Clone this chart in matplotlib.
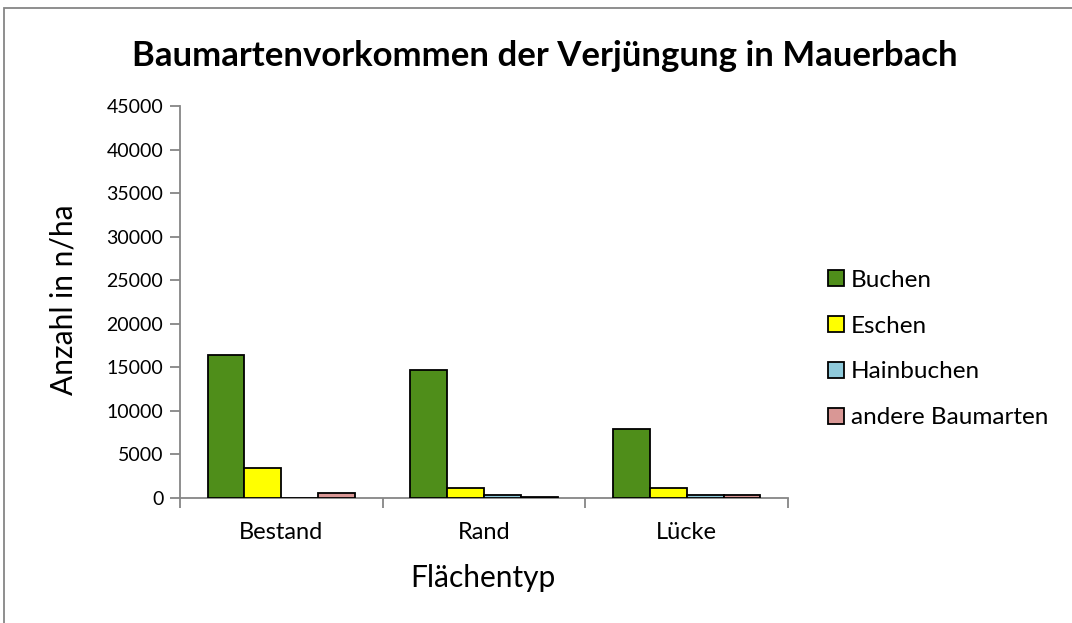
import numpy as np
import matplotlib.pyplot as plt
from matplotlib.patches import Rectangle

plt.rcParams["font.family"] = ["Lato", "DejaVu Sans"]

# data
categories = ["Bestand", "Rand", "Lücke"]
series = ["Buchen", "Eschen", "Hainbuchen", "andere Baumarten"]
buchen = [16400, 14700, 7900]
eschen = [3500, 1150, 1150]
hainbuchen = [50, 300, 400]
andere = [550, 150, 400]
colors = ["#4f8e1a", "#ffff00", "#8fcadb", "#d99795"]

values = [buchen, eschen, hainbuchen, andere]

W, H = 1072, 623
fig = plt.figure(figsize=(W / 100, H / 100), dpi=100)
ax = fig.add_axes([180 / W, 1 - 498 / H, 608 / W, 392 / H])

x = np.arange(len(categories))
w = 1 / (4 + 1.5)
for i, (name, vals) in enumerate(zip(series, values)):
    ax.bar(x - 2 * w + (i + 0.5) * w, vals, width=w, color=colors[i],
           edgecolor="black", linewidth=1.3, label=name, zorder=3)

ax.set_xlim(-0.5, 2.5)
ax.set_ylim(0, 45000)
ax.set_yticks(np.arange(0, 45001, 5000))
ax.set_xticks([])
ax.set_xticks([-0.5, 0.5, 1.5, 2.5], minor=True)
ax.tick_params(axis="x", which="minor", length=7, color="#868686", width=1.3)
ax.tick_params(axis="y", length=7, color="#868686", width=1.3, labelsize=14,
               pad=5)
for k, c in enumerate(categories):
    ax.text(k, -4000, c, ha="center", va="center", fontsize=17)

for s in ["top", "right"]:
    ax.spines[s].set_visible(False)
for s in ["left", "bottom"]:
    ax.spines[s].set_color("#868686")
    ax.spines[s].set_linewidth(1.3)

fig.text(63 / W, 1 - 300 / H, "Anzahl in n/ha", rotation=90,
         ha="center", va="center", fontsize=21.5)
fig.text(483 / W, 1 - 578 / H, "Flächentyp", ha="center", va="center",
         fontsize=21.5)

fig.text(545 / W, 1 - 56 / H, "Baumartenvorkommen der Verjüngung in Mauerbach",
         ha="center", va="center", fontsize=25, fontweight="bold")

leg = ax.legend(loc="center left", bbox_to_anchor=(1.03, 0.38), frameon=False,
                fontsize=17.5, handlelength=0.65, handleheight=0.65,
                handletextpad=0.3, labelspacing=1.02)

fig.patches.append(Rectangle((4 / W, -0.1), 1.2, 1.1 - 8 / H,
                             transform=fig.transFigure, fill=False,
                             edgecolor="#868686", linewidth=1.3))

fig.savefig("out.png", dpi=100)
